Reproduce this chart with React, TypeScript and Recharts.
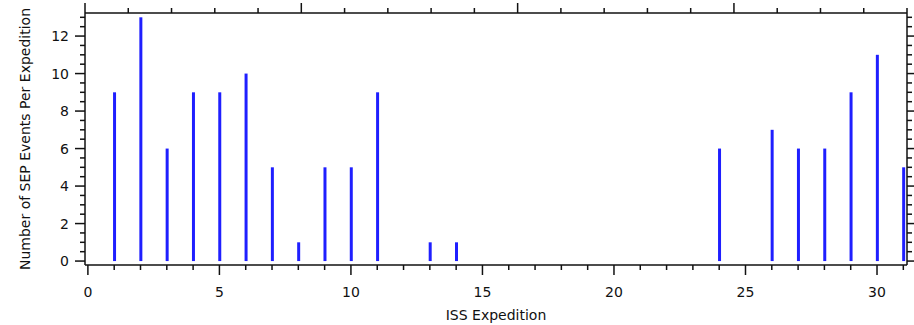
import { ComposedChart, Bar, XAxis, YAxis } from 'recharts';

const expeditions = [1, 2, 3, 4, 5, 6, 7, 8, 9, 10, 11, 13, 14, 24, 26, 27, 28, 29, 30, 31];
const sepEvents = [9, 13, 6, 9, 9, 10, 5, 1, 5, 5, 9, 1, 1, 6, 7, 6, 6, 9, 11, 5];

const xTicks = Array.from({ length: 32 }, (_, i) => i);
const yTicks = Array.from({ length: 27 }, (_, i) => i / 2);

const data = expeditions.map((e, i) => ({ expedition: e, events: sepEvents[i] }));

const FONT = '"DejaVu Sans", sans-serif';
const INK = '#111';

const BottomTick = ({ x, y, payload }: any) => {
  const major = payload.value % 5 === 0;
  return (
    <g>
      <line x1={x} x2={x} y1={y} y2={y + (major ? 10 : 5)} stroke={INK} strokeWidth={1.5} />
      {major && (
        <text x={x} y={y + 27} textAnchor="middle" dominantBaseline="central" fontSize={14} fontFamily={FONT} fill={INK}>
          {payload.value}
        </text>
      )}
    </g>
  );
};

const TopTick = ({ x, y, payload }: any) => {
  const major = payload.value % 5 === 0;
  return <line x1={x} x2={x} y1={y} y2={y - (major ? 10 : 5)} stroke={INK} strokeWidth={1.5} />;
};

const LeftTick = ({ x, y, payload }: any) => {
  const major = payload.value % 2 === 0;
  return (
    <g>
      <line x1={x - (major ? 10 : 5)} x2={x} y1={y} y2={y} stroke={INK} strokeWidth={1.5} />
      {major && (
        <text x={x - 16} y={y} textAnchor="end" dominantBaseline="central" fontSize={14} fontFamily={FONT} fill={INK}>
          {payload.value}
        </text>
      )}
    </g>
  );
};

const RightTick = ({ x, y, payload }: any) => {
  const major = payload.value % 2 === 0;
  return <line x1={x} x2={x + (major ? 10 : 5)} y1={y} y2={y} stroke={INK} strokeWidth={1.5} />;
};

export default function App() {
  return (
    <div style={{ position: 'absolute', left: 0, top: 0, width: 914, height: 325, background: '#fff' }}>
      <ComposedChart width={914} height={325} data={data} margin={{ top: 0, right: 0, bottom: 0, left: 0 }}>
        <XAxis
          xAxisId="bottom"
          dataKey="expedition"
          type="number"
          domain={[-0.11, 31.14]}
          allowDataOverflow
          ticks={xTicks}
          interval={0}
          height={60}
          tickSize={0}
          tickMargin={0}
          tickLine={false}
          tick={<BottomTick />}
          axisLine={{ stroke: INK, strokeWidth: 1.5 }}
          label={{ value: 'ISS Expedition', position: 'insideBottom', offset: 5, fontSize: 14, fontFamily: FONT, fill: INK }}
        />
        <XAxis
          xAxisId="top"
          orientation="top"
          type="number"
          domain={[-0.11, 31.14]}
          allowDataOverflow
          ticks={xTicks}
          interval={0}
          height={13}
          tickSize={0}
          tickMargin={0}
          tickLine={false}
          tick={<TopTick />}
          axisLine={{ stroke: INK, strokeWidth: 1.5 }}
        />
        <YAxis
          yAxisId="left"
          type="number"
          domain={[-0.21, 13.23]}
          allowDataOverflow
          ticks={yTicks}
          interval={0}
          width={85}
          tickSize={0}
          tickMargin={0}
          tickLine={false}
          tick={<LeftTick />}
          axisLine={{ stroke: INK, strokeWidth: 1.5 }}
          label={{
            value: 'Number of SEP Events Per Expedition',
            angle: -90,
            position: 'insideLeft',
            offset: 0,
            dx: 25,
            fontSize: 14,
            fontFamily: FONT,
            fill: INK,
            style: { textAnchor: 'middle' },
          }}
        />
        <YAxis
          yAxisId="right"
          orientation="right"
          type="number"
          domain={[-0.21, 13.23]}
          allowDataOverflow
          ticks={yTicks}
          interval={0}
          width={7}
          tickSize={0}
          tickMargin={0}
          tickLine={false}
          tick={<RightTick />}
          axisLine={{ stroke: INK, strokeWidth: 1.5 }}
        />
        <Bar xAxisId="bottom" yAxisId="left" dataKey="events" fill="#1f1fff" barSize={3} isAnimationActive={false} />
      </ComposedChart>
    </div>
  );
}
